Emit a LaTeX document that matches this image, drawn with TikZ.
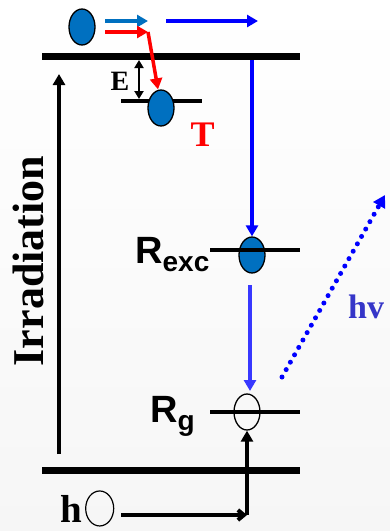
\documentclass[tikz,border=0pt]{standalone}
\usepackage{fontspec}
\setmainfont{Liberation Serif}
\setsansfont{Liberation Sans}
\usetikzlibrary{shapes.geometric,arrows.meta,positioning}

\definecolor{eblue}{HTML}{0070C0}
\definecolor{hvblue}{HTML}{3535C8}
\definecolor{dblue}{HTML}{3838FF}
\newcommand{\fs}[1]{\fontsize{#1}{#1}\selectfont}

\tikzset{
  elec/.style={ellipse,draw=black,line width=1.3pt,fill=eblue,
    minimum width=26pt,minimum height=36pt,inner sep=0pt},
  hole/.style={elec,fill=none},
  bar/.style={line width=7.5pt},
  level/.style={line width=4.5pt},
  tip/.style={-{Triangle[length=11pt,width=12pt]}},
}

\begin{document}
\begin{tikzpicture}[x=1pt,y=-1pt]
\shade[top color=white,bottom color=gray!7] (0,0) rectangle (390,531);
\useasboundingbox (0,0) rectangle (390,531);

% the two bands
\draw[bar] (42,56.5) coordinate (top1) -- (300,56.5) coordinate (top2);
\draw[bar] (42,470.5) coordinate (bot1) -- (300,470.5) coordinate (bot2);

% levels and electrons
\draw[level] (121,101) coordinate (tL) -- (202,101) coordinate (tR);
\node[elec] (e0) at (82,27) {};
\node[elec] (eT) at (161,108) {};
\node[elec] (eX) at (252,255) {};
\draw[level] (210,250) coordinate (xL) -- (300,250) coordinate (xR);
\node[hole] (eG) at (247,412) {};
\draw[level] (210,412) coordinate (gL) -- (300,412) coordinate (gR);

% labels
\node[font=\bfseries\fs{44},rotate=90] (irr) at (28,261) {Irradiation};
\node[font=\bfseries\fs{28},anchor=base west] (E) at (107,90) {E};
\node[red,font=\bfseries\fs{36},anchor=base west] (T) at (187,146) {T};
\node[font=\sffamily\bfseries\fs{38},anchor=base west,inner sep=0pt] (Rexc) at (135,263)
  {R\raisebox{-8pt}{\fs{28}exc}};
\node[font=\sffamily\bfseries\fs{38},anchor=base west,inner sep=0pt] (Rg) at (150,422)
  {R\raisebox{-8pt}{\fs{28}g}};
\node[hvblue,font=\bfseries\fs{34},anchor=base west,inner sep=0pt] (hv) at (348,318) {hv};
\node[font=\bfseries\fs{39},anchor=base west,inner sep=0pt] (h) at (60,522) {h};
\node[ellipse,draw,line width=1.2pt,minimum width=28pt,minimum height=35pt,
  inner sep=0pt,right=3pt of h.east] (nu) {};

% free ends
\coordinate (b1) at (105,21);
\coordinate (b2) at (148,21);
\coordinate (r1) at (105,32);
\coordinate (r2) at (148,32);
\coordinate (c1) at (166,21);
\coordinate (c2) at (258,21);
\coordinate (v1) at (252,60);
\coordinate (d1) at (250,285);
\coordinate (d2) at (250,391);
\coordinate (p1) at (282,377);
\coordinate (p2) at (385,195);
\coordinate (i1) at (59,454);
\coordinate (i2) at (59,74);
\coordinate (k1) at (139,60);
\coordinate (k2) at (139,99);
\coordinate (n1) at (121,515);
\coordinate (n2) at (247,515);

% arrows
\draw[tip,eblue,line width=3.5pt] (b1) -- (b2);
\draw[tip,red,line width=3.5pt] (r1) -- (r2);
\draw[tip,red,line width=3.5pt] (r2) -- ([xshift=-3pt]eT.north);
\draw[tip,blue,line width=3.5pt] (c1) -- (c2);
\draw[tip,blue,line width=3.5pt] (v1) -- (eX.north);
\draw[tip,dblue,line width=3.5pt] (d1) -- (d2);
\draw[-{Triangle[length=12pt,width=13pt]},blue,line width=5pt,line cap=round,
  dash pattern=on 0pt off 8.5pt] (p1) -- (p2);
\draw[tip,line width=4pt] (i1) -- (i2);
\draw[{Triangle[length=8pt,width=9pt]}-{Triangle[length=8pt,width=9pt]},line width=2pt] (k1) -- (k2);
\draw[-{Straight Barb[length=6pt,width=10pt]},line width=4pt] (n1) -- (n2);
\draw[tip,line width=4pt] (n2) -- (eG.south);
\end{tikzpicture}
\end{document}
